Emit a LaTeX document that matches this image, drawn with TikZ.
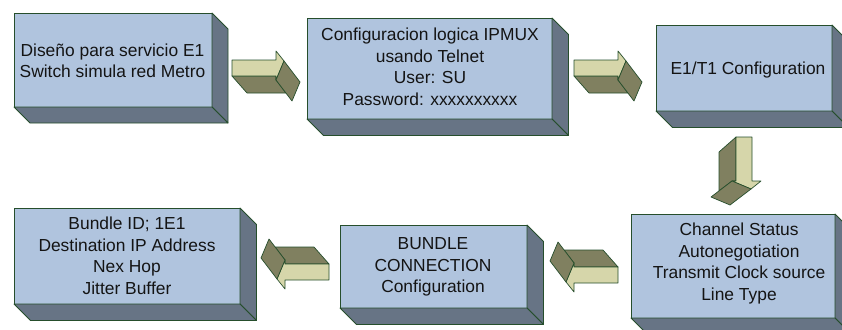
\documentclass[tikz,border=0pt]{standalone}
\usepackage{fontspec}
\setmainfont{Liberation Sans}
\usetikzlibrary{calc}
\definecolor{frontc}{RGB}{176,196,222}
\definecolor{sidec}{RGB}{103,116,133}
\definecolor{edgec}{RGB}{38,78,44}
\definecolor{alightc}{RGB}{214,214,170}
\definecolor{adarkc}{RGB}{128,128,96}
\definecolor{txtc}{RGB}{20,20,20}
\tikzset{
  face/.style={draw=edgec, fill=frontc, line width=0.8pt, inner sep=0pt, outer sep=0pt},
  sideface/.style={draw=edgec, fill=sidec, line width=0.8pt, line join=round},
  txt/.style={align=center, text=txtc, inner sep=0pt, font=\fontsize{17.4}{21.5}\selectfont},
  alight/.style={draw=edgec, fill=alightc, line width=0.7pt, line join=round},
  adark/.style={draw=edgec, fill=adarkc, line width=0.7pt, line join=round}
}
\newcommand{\blockbox}[6]{%
  \node[face, minimum width=#4pt, minimum height=#5pt] (#1) at (#2,#3) {};
  \draw[sideface] (#1.north east) -- ++(#6,#6) -- ($(#1.south east)+(#6,#6)$) -- (#1.south east) -- cycle;
  \draw[sideface] (#1.south west) -- (#1.south east) -- ++(#6,#6) -- ($(#1.south west)+(#6,#6)$) -- cycle;
}
\newcommand{\blockarrow}[3]{%
  \begin{scope}[shift={(#1,#2)}, rotate=#3]
    \draw[adark] (0,16) -- (15,33) -- (54,33) -- (44,20) -- (44,16) -- cycle;
    \draw[alight] (0,0) -- (44,0) -- (44,-9) -- (52,1) -- (44,20) -- (44,16) -- (0,16) -- cycle;
    \draw[adark] (52,1) -- (68,22) -- (60,41) -- (44,20) -- cycle;
  \end{scope}
}
\begin{document}
\begin{tikzpicture}[x=1pt,y=-1pt]
\useasboundingbox (0,0) rectangle (842,329);
\clip (0,0) rectangle (842,329);
% blocks
\blockbox{b1}{113}{60}{198}{94}{16}
\blockbox{b2}{429.5}{68.5}{245}{101}{16.5}
\blockbox{b3}{744}{68}{176}{86}{16.5}
\blockbox{b6}{733}{266}{204}{104}{16}
\blockbox{b5}{433.5}{266.5}{187}{83}{16.5}
\blockbox{b4}{127}{256}{226}{96}{16.5}
% texts
\node[txt] (t1) at (112.5,61) {Diseño para servicio E1\\Switch simula red Metro};
\node[txt] (t2) at (430,67) {Configuracion logica IPMUX\\usando Telnet\\User: SU\\Password: xxxxxxxxxx};
\node[txt] (t3) at (748,70) {E1/T1 Configuration};
\node[txt] (t6) at (739,263.5) {Channel Status\\Autonegotiation\\Transmit Clock source\\Line Type};
\node[txt] (t5) at (433,267) {BUNDLE\\CONNECTION\\Configuration};
\node[txt] (t4) at (127,256) {Bundle ID; 1E1\\Destination IP Address\\Nex Hop\\Jitter Buffer};
% arrows
\blockarrow{232}{60}{0}
\blockarrow{574}{60}{0}
\blockarrow{752}{137}{-90}
\blockarrow{618}{283}{180}
\blockarrow{329}{280}{180}
\end{tikzpicture}
\end{document}
